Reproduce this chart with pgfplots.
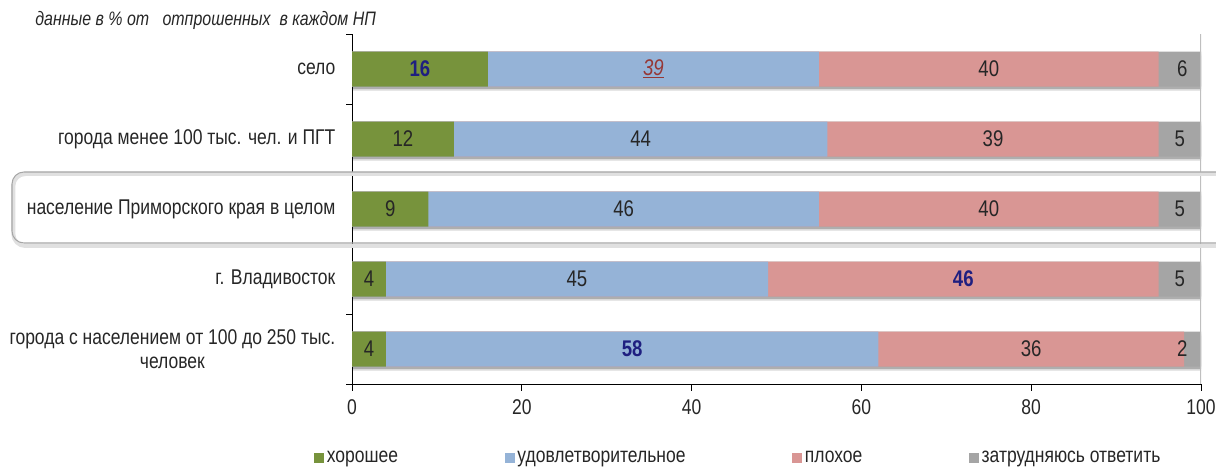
\documentclass[border=0pt]{standalone}
\usepackage{pgfplots}
\pgfplotsset{compat=1.18}
\usepackage{pgfplotstable}
\usepackage{fontspec}
\setmainfont{Liberation Sans}[FakeStretch=0.82]
\definecolor{cgood}{HTML}{77933C}
\definecolor{cok}{HTML}{95B3D7}
\definecolor{cbad}{HTML}{D99694}
\definecolor{cdk}{HTML}{A5A5A5}
\definecolor{navy}{HTML}{1F1F80}
\definecolor{dred}{HTML}{953735}
\definecolor{txt}{HTML}{262626}
\pgfplotstableread{
y a b c d
5 16 39 40 6
4 12 44 39 5
3 9 46 40 5
2 4 45 46 5
1 4 58 36 2
}\data
\begin{document}
\begin{tikzpicture}[x=1pt,y=1pt]
\useasboundingbox (0,0) rectangle (912,351);
\node[anchor=west, font=\fontsize{14.6}{16}\itshape, text=txt] at (23,336) {данные в \% от \ \ отпрошенных \ в каждом НП};
\begin{axis}[
  at={(264pt,63pt)}, anchor=south west,
  scale only axis, width=636.75pt, height=262.5pt,
  xmin=0, xmax=100, ymin=0.5, ymax=5.5,
  axis x line*=bottom, axis y line*=left,
  axis line style={black, line width=0.6pt},
  tick align=outside,
  xtick={0,20,...,100},
  ytick={1,...,5},
  yticklabels={{города с населением от 100 до 250 тыс.\\человек},г. Владивосток,{население Приморского края в целом},{города менее 100 тыс. чел. и ПГТ},село},
  minor ytick={0.5,1.5,...,5.5},
  every major y tick/.append style={draw=none},
  major tick length=5pt, minor tick length=4.5pt,
  tick style={black, line width=0.6pt},
  yticklabel style={align=center, font=\fontsize{16}{17.5}\selectfont, text=txt, xshift=-4pt},
  xticklabel style={font=\fontsize{16}{17}\selectfont, text=txt, yshift=-3pt},
  /pgf/number format/assume math mode=true,
  reverse legend,
  legend columns=4,
  legend style={at={(-0.0448,-0.211)}, anchor=west, draw=none, fill=none, inner sep=0pt,
    font=\fontsize{16}{17}\selectfont, text=txt,
    /tikz/every even column/.append style={column sep=78pt}},
  legend image code/.code={\fill[#1,/tikz/.cd] (0pt,-3.75pt) rectangle (7.5pt,3.75pt);},
  nodes near coords style={anchor=center, font=\fontsize{17}{18}\selectfont, text=txt},
]
% shadow
\addplot[xbar, forget plot, bar width=26.25pt, bar shift=-3pt, fill=black, opacity=0.15, draw=none]
  table[x expr=\thisrow{a}+\thisrow{b}+\thisrow{c}+\thisrow{d}, y=y] {\data};
\addplot[xbar, forget plot, bar width=26.25pt, bar shift=-1.8pt, fill=black, opacity=0.2, draw=none]
  table[x expr=\thisrow{a}+\thisrow{b}+\thisrow{c}+\thisrow{d}, y=y] {\data};
% bars (cumulative, drawn longest first)
\addplot[xbar, bar width=26.25pt, bar shift=0pt, fill=cdk, draw=none]
  table[x expr=\thisrow{a}+\thisrow{b}+\thisrow{c}+\thisrow{d}, y=y] {\data};
\addlegendentry{затрудняюсь ответить}
\addplot[xbar, bar width=26.25pt, bar shift=0pt, fill=cbad, draw=none]
  table[x expr=\thisrow{a}+\thisrow{b}+\thisrow{c}, y=y] {\data};
\addlegendentry{плохое}
\addplot[xbar, bar width=26.25pt, bar shift=0pt, fill=cok, draw=none]
  table[x expr=\thisrow{a}+\thisrow{b}, y=y] {\data};
\addlegendentry{удовлетворительное}
\addplot[xbar, bar width=26.25pt, bar shift=0pt, fill=cgood, draw=none]
  table[x=a, y=y] {\data};
\addlegendentry{хорошее}
% labels: green
\addplot[forget plot, draw=none, mark=none, nodes near coords, point meta=explicit symbolic,
  y filter/.expression={y==5 ? nan : y}]
  table[x expr=\thisrow{a}/2, y=y, meta=a] {\data};
\addplot[forget plot, draw=none, mark=none, nodes near coords, point meta=explicit symbolic,
  nodes near coords style={font=\fontsize{17}{18}\selectfont\bfseries, text=navy},
  y filter/.expression={y==5 ? y : nan}]
  table[x expr=\thisrow{a}/2, y=y, meta=a] {\data};
% labels: blue
\addplot[forget plot, draw=none, mark=none, nodes near coords, point meta=explicit symbolic,
  y filter/.expression={(y==5 || y==1) ? nan : y}]
  table[x expr=\thisrow{a}+\thisrow{b}/2, y=y, meta=b] {\data};
\addplot[forget plot, draw=none, mark=none, nodes near coords={\underline{\pgfplotspointmeta}}, point meta=explicit symbolic,
  nodes near coords style={font=\fontsize{17}{18}\selectfont\itshape, text=dred},
  y filter/.expression={y==5 ? y : nan}]
  table[x expr=\thisrow{a}+\thisrow{b}/2, y=y, meta=b] {\data};
\addplot[forget plot, draw=none, mark=none, nodes near coords, point meta=explicit symbolic,
  nodes near coords style={font=\fontsize{17}{18}\selectfont\bfseries, text=navy},
  y filter/.expression={y==1 ? y : nan}]
  table[x expr=\thisrow{a}+\thisrow{b}/2, y=y, meta=b] {\data};
% labels: red
\addplot[forget plot, draw=none, mark=none, nodes near coords, point meta=explicit symbolic,
  y filter/.expression={y==2 ? nan : y}]
  table[x expr=\thisrow{a}+\thisrow{b}+\thisrow{c}/2, y=y, meta=c] {\data};
\addplot[forget plot, draw=none, mark=none, nodes near coords, point meta=explicit symbolic,
  nodes near coords style={font=\fontsize{17}{18}\selectfont\bfseries, text=navy},
  y filter/.expression={y==2 ? y : nan}]
  table[x expr=\thisrow{a}+\thisrow{b}+\thisrow{c}/2, y=y, meta=c] {\data};
% labels: gray
\addplot[forget plot, draw=none, mark=none, nodes near coords, point meta=explicit symbolic]
  table[x expr={min(\thisrow{a}+\thisrow{b}+\thisrow{c}+\thisrow{d}/2,97.8)}, y=y, meta=d] {\data};
\draw[black!25, line width=0.8pt] (axis cs:100,0.5) -- (axis cs:100,5.5) -- ++(0,25pt);
\end{axis}
% highlight box around the whole-region row
\draw[black!12, line width=3pt, rounded corners=9pt] (10,166.5) rectangle (940,220.5);
\draw[black!35, line width=0.8pt, rounded corners=9pt] (9,168.75) rectangle (940,222);
\end{tikzpicture}
\end{document}
